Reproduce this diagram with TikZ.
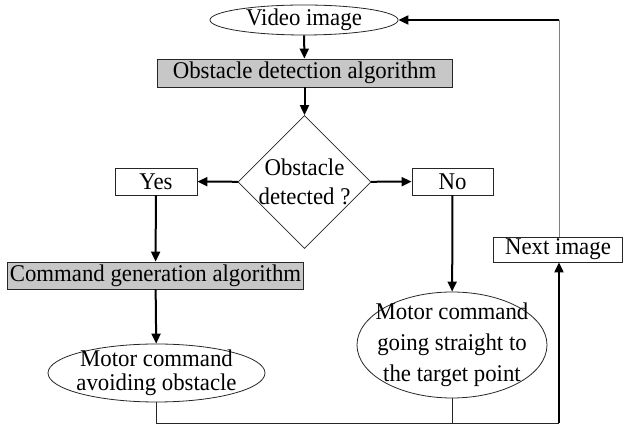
\documentclass[tikz,border=0pt]{standalone}
\usepackage{fontspec}
\setmainfont{Liberation Serif}[FakeStretch=0.95]
\usetikzlibrary{shapes.geometric,arrows.meta}
\begin{document}
\begin{tikzpicture}[x=1pt,y=1pt,line width=0.8pt,
    font=\fontsize{24}{26}\selectfont,
    box/.style={draw=black!85,rectangle,inner sep=0pt,minimum height=27pt},
    algo/.style={box,fill=black!22},
    oval/.style={draw=black!85,ellipse,inner sep=-40pt,align=center},
    test/.style={draw=black!85,diamond,inner sep=-40pt,align=center,
      minimum width=133pt,minimum height=133pt},
    flow/.style={line width=2pt,-{Triangle[length=10pt,width=9pt]}},
    link/.style={line width=0.8pt,draw=black!85}]
    \path[use as bounding box] (0,0) rectangle (627,425);
    \node[oval,minimum width=188pt,minimum height=30pt] (video) at (304,405) {Video image};
    \node[algo,minimum width=295pt,minimum height=28pt] (detect) at (304.5,352) {Obstacle detection algorithm};
    \node[test,font=\fontsize{24}{29}\selectfont] (decide) at (304.5,243) {Obstacle\\detected ?};
    \node[box,minimum width=82pt] (yes) at (156,243.5) {Yes};
    \node[box,minimum width=81pt] (no) at (452.5,243.5) {No};
    \node[algo,minimum width=296pt] (cmdgen) at (155.5,149.5) {Command generation algorithm};
    \node[oval,minimum width=217pt,minimum height=58pt,
      font=\fontsize{24}{24}\selectfont] (avoid) at (156.5,52)
      {Motor command\\avoiding obstacle};
    \node[oval,minimum width=190pt,minimum height=106pt,
      font=\fontsize{24}{31}\selectfont] (straight) at (452,80)
      {Motor command\\going straight to\\the target point};
    \node[box,minimum width=129pt,minimum height=25pt] (next) at (558,175.5) {Next image};
    \coordinate (base) at (559,2);
    \coordinate (back) at (559,405);
    \draw[flow] (video) -- (detect);
    \draw[flow] (detect) -- (decide);
    \draw[flow] (decide) -- (yes);
    \draw[flow] (decide) -- (no);
    \draw[flow] (yes) -- (cmdgen);
    \draw[flow] (cmdgen) -- (avoid);
    \draw[flow] (no) -- (straight);
    \draw[link] (avoid.south) |- (base);
    \draw[link] (straight.south) -- (straight.south |- base);
    \draw[flow] (base) -- (base |- next.south);
    \draw[link,draw=black!50] (base |- next.north) -- (back);
    \draw[flow] (back) -- (video.east);
  \end{tikzpicture}
\end{document}
